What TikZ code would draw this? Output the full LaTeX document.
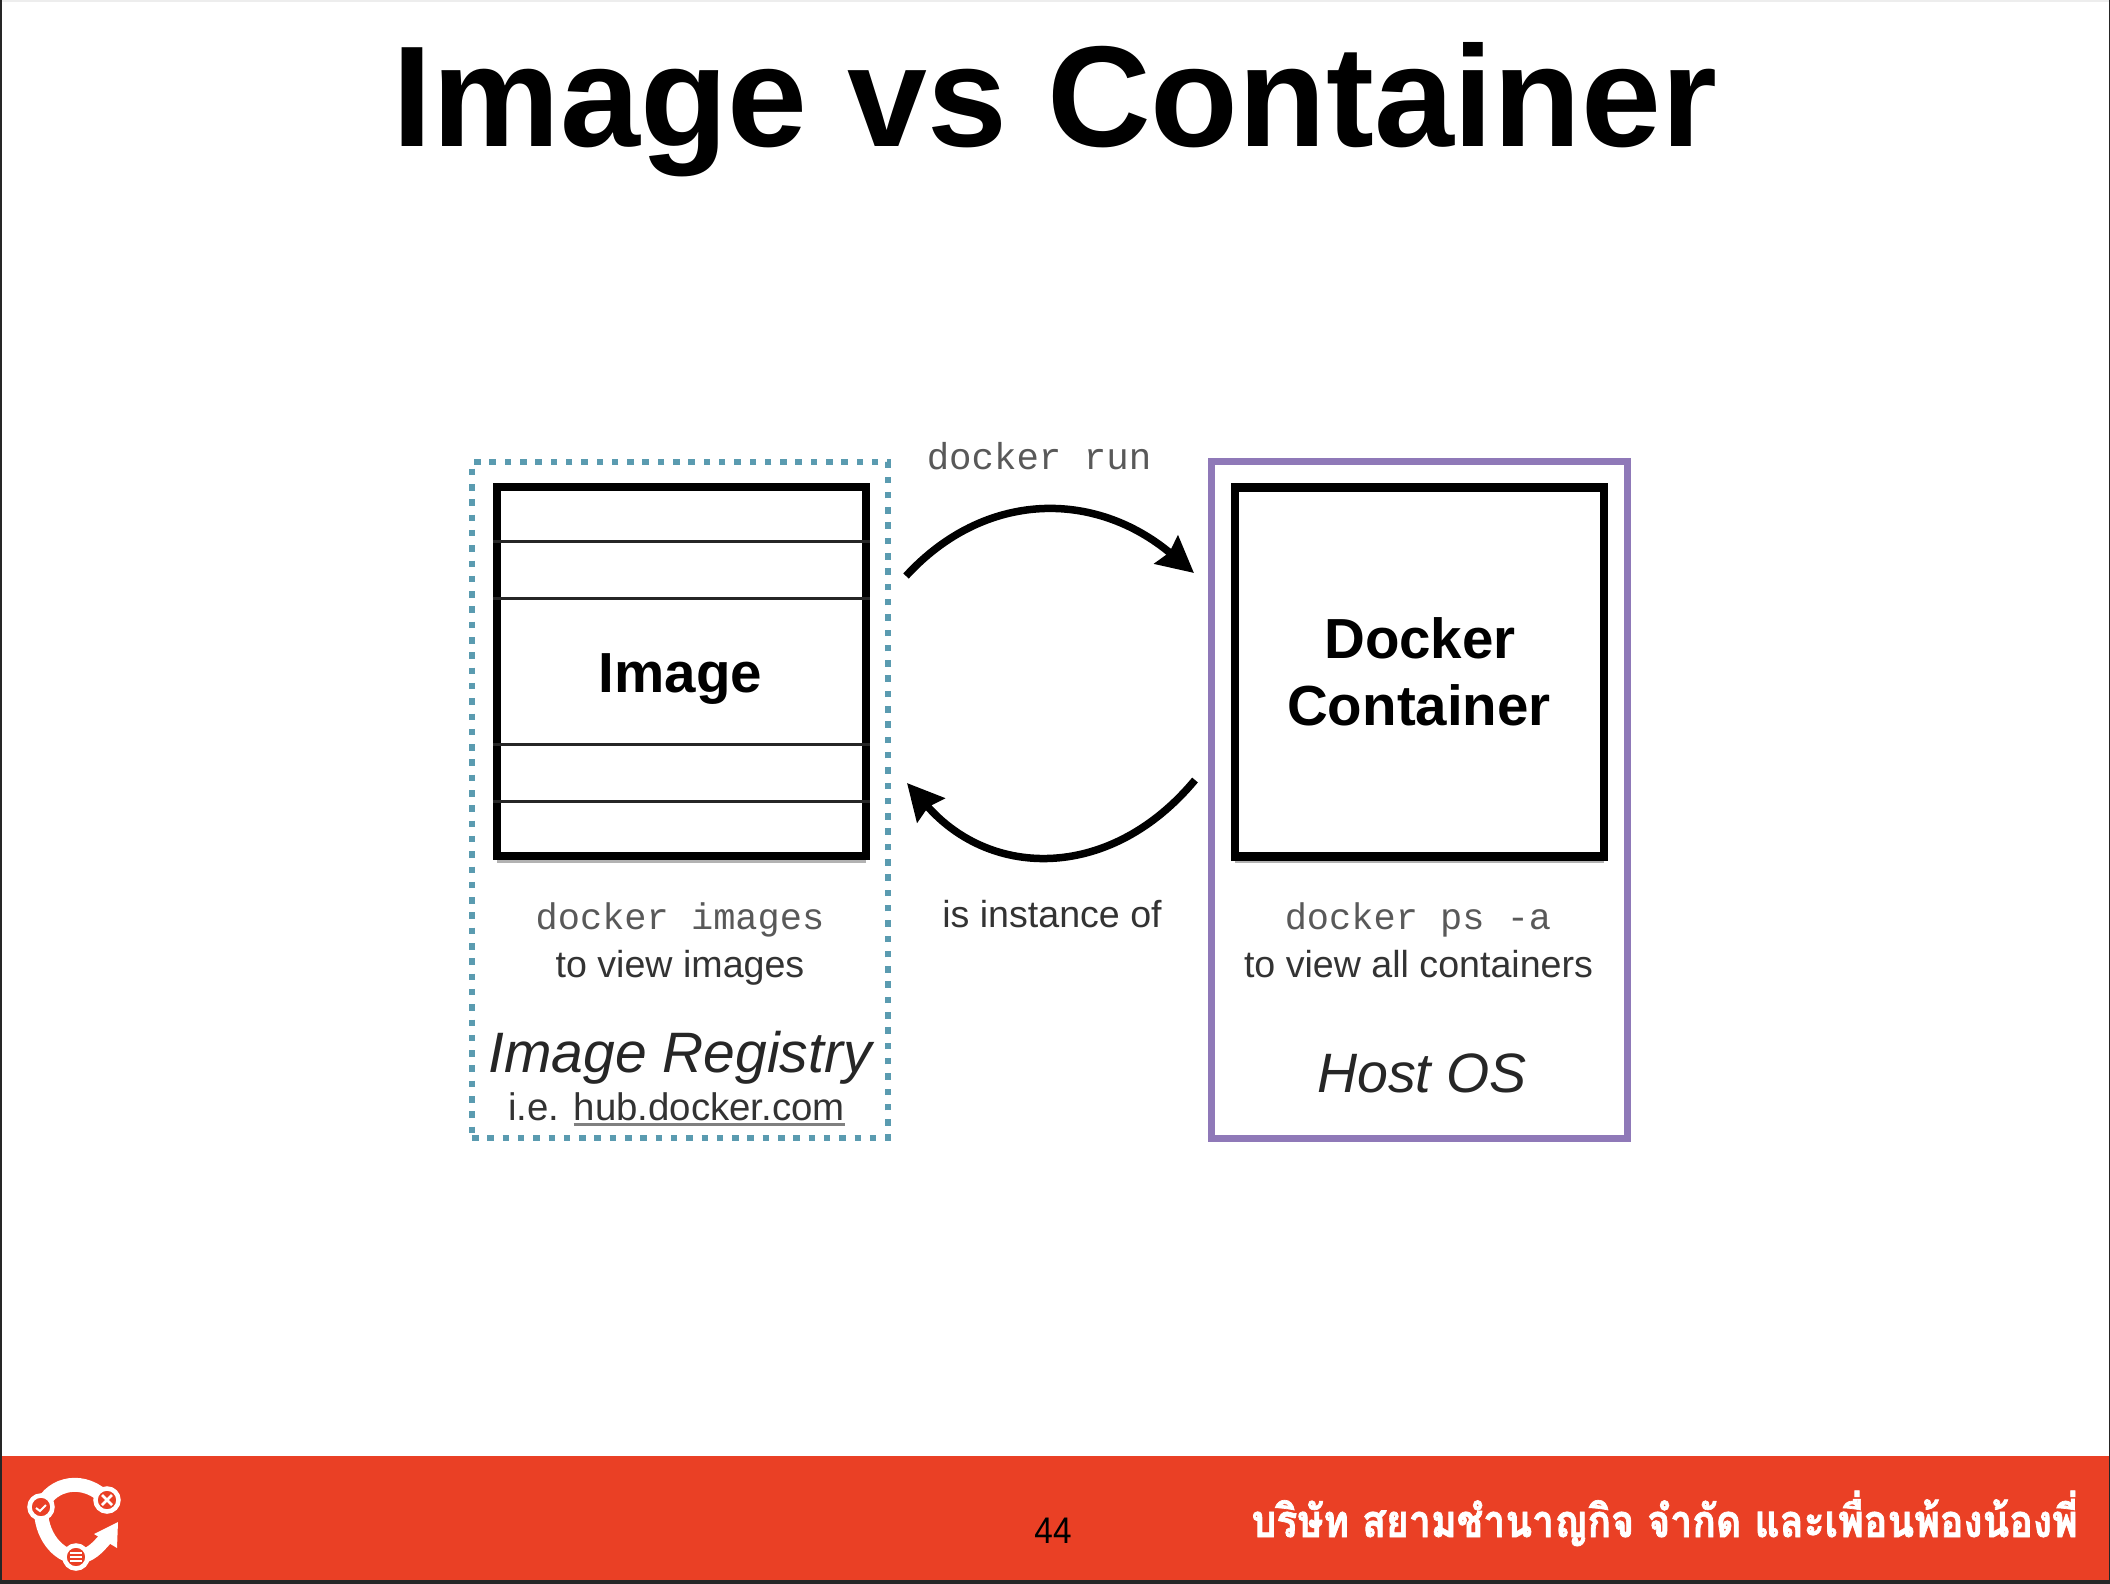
\documentclass[tikz,border=0pt]{standalone}
\usepackage{fontspec}
\usepackage{tikz}
\usetikzlibrary{arrows.meta, shadows}
\setmainfont{Liberation Sans}
\setmonofont{Liberation Mono}
\newfontfamily\thaifont[Script=Thai, FakeStretch=0.87, FakeBold=1.5]{Loma}
\newfontfamily\pagefont[FakeStretch=0.9]{Liberation Sans}
\definecolor{barred}{HTML}{EA4025}
\definecolor{regteal}{HTML}{5A9BB0}
\definecolor{hostpurple}{HTML}{8F79B8}
\newcommand{\linkline}[1]{\setbox0\hbox{#1}\rlap{\color{black!50}\rule[-5.5pt]{\wd0}{2.5pt}}\box0}

\begin{document}
\begin{tikzpicture}[x=1pt, y=-1pt,
  stack/.style={draw=black, fill=white, line width=8.5pt, minimum width=369pt, minimum height=369pt,
    inner sep=0pt, align=center, drop shadow={shadow xshift=0pt, shadow yshift=-6.5pt, opacity=.3, fill=black}},
  layer/.style={black!85, line width=3pt},
  boxlab/.style={anchor=base, inner sep=0pt, font=\fontsize{56.5}{56.5}\selectfont\bfseries},
  registry/.style={draw=regteal, line width=6.5pt, dash pattern=on 6.5pt off 8.8pt,
    minimum width=416pt, minimum height=676pt, inner sep=0pt},
  hostos/.style={draw=hostpurple, line width=7pt, minimum width=416pt,
    minimum height=677pt, inner sep=0pt},
  cmd/.style={anchor=base, inner sep=0pt, text=black!65, font=\fontsize{37}{37}\selectfont\ttfamily},
  note/.style={anchor=base, inner sep=0pt, text=black!80, font=\fontsize{37.6}{37.6}\selectfont},
  place/.style={anchor=base, inner sep=0pt, text=black!85, font=\fontsize{57}{57}\selectfont\itshape},
  flow/.style={-{Stealth[length=36pt, width=36pt, inset=4pt]}, black, line width=7.5pt},
  logoring/.style={white, line width=14pt},
  logodot/.style={circle, draw=white, fill=barred, line width=4.5pt, minimum size=23pt, inner sep=0pt}]
\useasboundingbox (0,0) rectangle (2110,1584);
\fill[white] (0,0) rectangle (2110,1584);
\fill[black!7] (0,0) rectangle (2110,2);

\node[anchor=base, inner sep=0pt, font=\fontsize{143.6}{143.6}\selectfont\bfseries] (title) at (1055,147) {Image vs Container};

% left side
\node[registry] (reg) at (680,800) {};
\node[stack] (image) at (681.5,671.5) {};
\foreach \ly in {541,598,744,801}
  \draw[layer] (image.west |- 0,\ly) -- (image.east |- 0,\ly);
\node[boxlab] (imagelab) at (680.5,692) {Image};
\node[cmd] (imagescmd) at (680,929) {docker images};
\node[note] (imagesnote) at (680,977) {to view images};
\node[place] (reglab) at (680,1072) {Image Registry};
\node[note, font=\fontsize{38.4}{38.4}\selectfont] (hub) at (676.5,1120) {i.e. \linkline{hub.docker.com}};

% right side
\node[hostos] (host) at (1419,800) {};
\node[stack] (container) at (1419.5,672) {};
\node[boxlab] (dockerlab) at (1420,658) {Docker};
\node[boxlab] (containerlab) at (1419,725) {Container};
\node[cmd] (pscmd) at (1418,929) {docker ps -a};
\node[note] (psnote) at (1418.5,977) {to view all containers};
\node[place, font=\fontsize{55.5}{55.5}\selectfont\itshape] (hostlab) at (1422,1092) {Host OS};

% arrows between the two
\node[cmd, font=\fontsize{37.4}{37.4}\selectfont\ttfamily] (runcmd) at (1039,469) {docker run};
\node[note] (instlab) at (1052,927) {is instance of};
\coordinate (runa) at (906,576);
\coordinate (runb) at (1194,573);
\coordinate (insta) at (1195,780);
\coordinate (instb) at (907,783);
\draw[flow] (runa) .. controls (985,490) and (1095,490) .. (runb);
\draw[flow] (insta) .. controls (1112,880) and (992,880) .. (instb);

% footer
\fill[barred] (0,1456) rectangle (2110,1580);
\fill[black!85] (0,1580) rectangle (2110,1584);
\fill[black!85] (0,0) rectangle (2,1584);
\fill[black!85] (2108.5,0) rectangle (2110,1584);
\node[anchor=base, inner sep=0pt, font=\fontsize{37}{37}\selectfont\pagefont] (pageno) at (1053,1543) {44};
\node[anchor=base east, inner sep=0pt, text=white, font=\fontsize{45}{45}\selectfont\thaifont\bfseries] (company) at (2078,1537)
  {บริษัท สยามชำนาญกิจ จำกัด และเพื่อนพ้องน้องพี่};

% logo
\draw[logoring] (41,1507) .. controls (52,1482) and (85,1476) .. (107,1500);
\draw[logoring] (41,1507) .. controls (40,1535) and (58,1556) .. (76,1557) .. controls (90,1557) and (98,1547) .. (106,1538);
\fill[white] (118,1522) -- (117,1548) -- (94,1534) -- cycle;
\node[logodot] (logoa) at (41,1507) {};
\node[logodot] (logob) at (107,1500) {};
\node[logodot] (logoc) at (76,1557) {};
\draw[white, line width=2pt] (36,1508) -- (40,1511) -- (46,1505);
\draw[white, line width=2.5pt] (102,1495) -- (112,1505) (112,1495) -- (102,1505);
\draw[white, line width=1.5pt] (70,1553) -- (82,1553) (70,1557) -- (82,1557) (70,1561) -- (82,1561);
\end{tikzpicture}
\end{document}
